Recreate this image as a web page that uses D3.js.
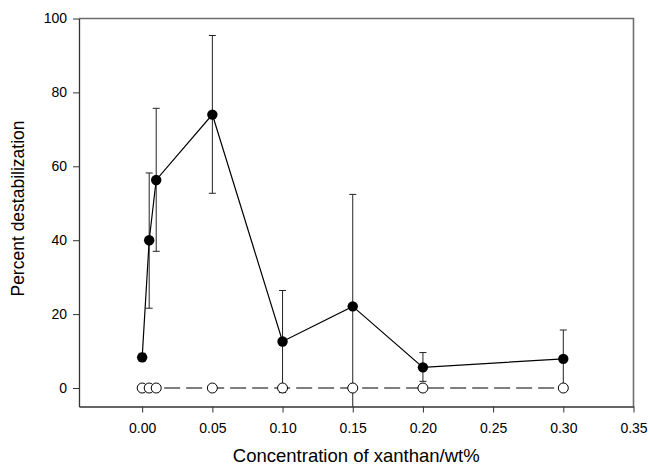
<!DOCTYPE html>
<html><head><meta charset="utf-8">
<script src="https://cdn.jsdelivr.net/npm/d3@7"></script>
<style>body{margin:0;background:#fff}svg{display:block}text{font-family:Arial,"Liberation Sans",sans-serif;fill:#000}</style>
</head><body><svg id="c" width="650" height="468"></svg>
<script>
const concentrations = [0, 0.005, 0.01, 0.05, 0.10, 0.15, 0.20, 0.30];
const destab = [8.3, 40, 56.3, 74, 12.6, 22.1, 5.6, 7.9];
const errUpper = [9.4, 58.2, 75.7, 95.4, 26.4, 52.4, 9.6, 15.7];
const errLower = [7.3, 21.6, 37, 52.7, -1.2, -8.2, 1.8, 0.2];
const control = [0, 0, 0, 0, 0, 0, 0, 0];
const xTicks = [0, 0.05, 0.10, 0.15, 0.20, 0.25, 0.30, 0.35];
const yTicks = [0, 20, 40, 60, 80, 100];

const svg = d3.select("#c");
const L = 79, R = 633.5, T = 18.5, B = 406.5;
const x = d3.scaleLinear().domain([-0.045, 0.35]).range([L, R]);
const y = d3.scaleLinear().domain([-5, 100]).range([B, T]);

svg.append("clipPath").attr("id","clip").append("rect")
  .attr("x", L).attr("y", T).attr("width", R-L).attr("height", B-T);

// frame top/right
svg.append("path").attr("d", `M${L},${T}H${R}V${B}`).attr("fill","none")
  .attr("stroke","#6e6e6e").attr("stroke-width",1.6);

const xAxis = svg.append("g").attr("transform",`translate(0,${B})`)
  .call(d3.axisBottom(x).tickValues(xTicks).tickFormat(d3.format(".2f")).tickSize(6).tickPadding(11).tickSizeOuter(0));
xAxis.select(".domain").attr("stroke","#333").attr("stroke-width",1.3);
xAxis.selectAll(".tick line").attr("stroke","#333");
xAxis.selectAll(".tick text").attr("font-size",14).attr("fill","#000");

const yAxis = svg.append("g").attr("transform",`translate(${L},0)`)
  .call(d3.axisLeft(y).tickValues(yTicks).tickSize(6).tickPadding(6).tickSizeOuter(0));
yAxis.select(".domain").attr("stroke","#333").attr("stroke-width",1.3);
yAxis.selectAll(".tick line").attr("stroke","#333");
yAxis.selectAll(".tick text").attr("font-size",14).attr("fill","#000");

// titles
svg.append("text").attr("x", (L+R)/2).attr("y", 462).attr("text-anchor","middle")
  .attr("font-size",18.5).text("Concentration of xanthan/wt%");
svg.append("text").attr("transform",`translate(24,${(T+B)/2 - 4}) rotate(-90)`)
  .attr("text-anchor","middle").attr("font-size",17.5).text("Percent destabilization");

const g = svg.append("g").attr("clip-path","url(#clip)");

// error bars
const idx = d3.range(concentrations.length);
g.selectAll(".eb").data(idx).join("line")
  .attr("x1", i=>x(concentrations[i])).attr("x2", i=>x(concentrations[i]))
  .attr("y1", i=>y(errLower[i])).attr("y2", i=>y(errUpper[i]))
  .attr("stroke","#222").attr("stroke-width",1);
g.selectAll(".cu").data(idx).join("line")
  .attr("x1", i=>x(concentrations[i])-3.5).attr("x2", i=>x(concentrations[i])+3.5)
  .attr("y1", i=>y(errUpper[i])).attr("y2", i=>y(errUpper[i]))
  .attr("stroke","#222").attr("stroke-width",1);
g.selectAll(".cl").data(idx).join("line")
  .attr("x1", i=>x(concentrations[i])-3.5).attr("x2", i=>x(concentrations[i])+3.5)
  .attr("y1", i=>y(errLower[i])).attr("y2", i=>y(errLower[i]))
  .attr("stroke","#222").attr("stroke-width",1);

// control dashed line
g.append("path").datum(idx)
  .attr("d", d3.line().x(i=>x(concentrations[i])).y(i=>y(control[i])))
  .attr("fill","none").attr("stroke","#000").attr("stroke-width",1.2)
  .attr("stroke-dasharray","16,6");

// main line
g.append("path").datum(idx)
  .attr("d", d3.line().x(i=>x(concentrations[i])).y(i=>y(destab[i])))
  .attr("fill","none").attr("stroke","#000").attr("stroke-width",1.2);

// open circles
g.selectAll(".oc").data(idx).join("circle")
  .attr("cx", i=>x(concentrations[i])).attr("cy", i=>y(control[i])).attr("r",5)
  .attr("fill","#fff").attr("stroke","#000").attr("stroke-width",1);

// filled circles
g.selectAll(".fc").data(idx).join("circle")
  .attr("cx", i=>x(concentrations[i])).attr("cy", i=>y(destab[i])).attr("r",5.2)
  .attr("fill","#000");
</script></body></html>
